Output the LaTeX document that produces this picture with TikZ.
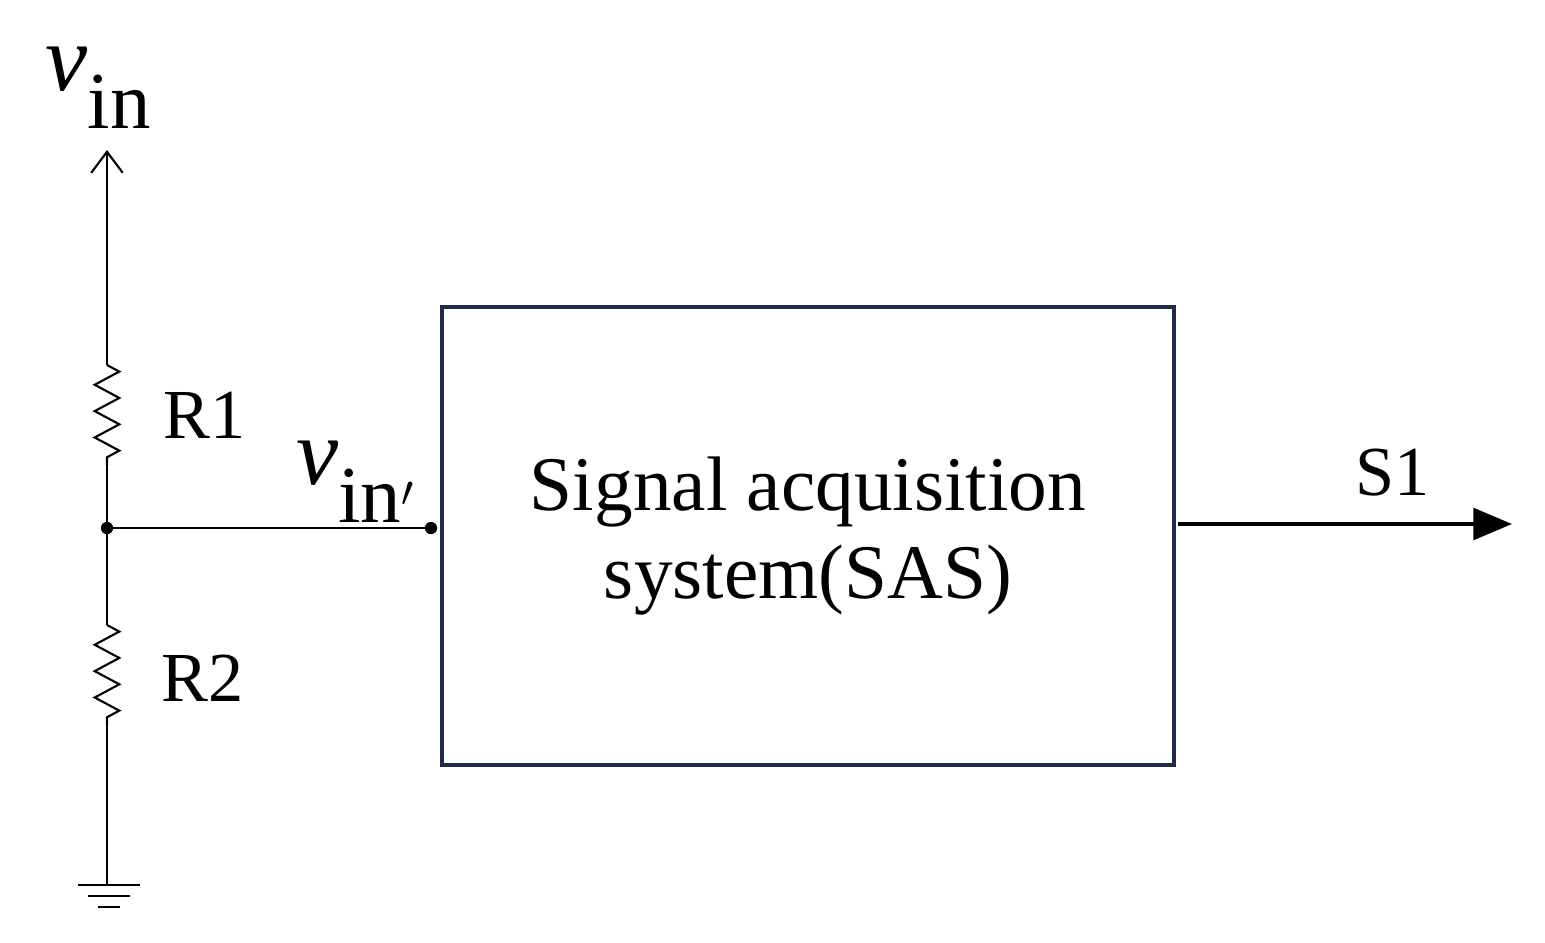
\documentclass[tikz,border=0pt]{standalone}
\usepackage{fontspec}
\setmainfont{Liberation Serif}
\usetikzlibrary{arrows.meta, positioning, decorations.pathmorphing}
\definecolor{boxline}{RGB}{31,45,72}

\tikzset{
    wire/.style={line width=1.2pt},
    res/.style={wire, decorate, decoration={zigzag, amplitude=7pt, segment length=15pt}},
    lbl/.style={font=\fontsize{40}{44}\selectfont},
    dot/.style={circle, fill, inner sep=0pt, minimum size=7pt},
    volt/.style={font=\fontsize{54}{54}\selectfont}
}
\newcommand{\vsig}[1]{{\itshape\char"03BD}\raisebox{-0.4em}{\fontsize{46}{46}\selectfont #1}}

\begin{document}
\begin{tikzpicture}[x=0.02cm, y=-0.02cm]
    \useasboundingbox (0,0) rectangle (1545,943);
    \coordinate (top) at (107,150);
    \coordinate (r1a) at (107,365);
    \coordinate (r1b) at (107,465);
    \node (mid) [dot] at (107,528) {};
    \coordinate (r2a) at (107,625);
    \coordinate (r2b) at (107,725);
    \coordinate (gnd) at (107,885);
    \node (tap) [dot] at (431,528) {};
    \node (sas) [draw=boxline, line width=2pt, minimum width=732*0.02cm, minimum height=458*0.02cm,
        align=center, font=\fontsize{44}{50}\selectfont] at (808,536) {Signal acquisition\\system(SAS)};
    \coordinate (src) at (1178,524);
    \coordinate (out) at (1512,524);

    \node (vin) [volt] at (98,88) {\vsig{in}};
    \node (vinp) [volt] at (355,482) {\vsig{in$'$}};
    \node (lr1) [lbl] at (205,415) {R1};
    \node (lr2) [lbl] at (203,678) {R2};
    \node (ls1) [lbl] at (1393,473) {S1};

    \draw[wire, -{Straight Barb[length=12pt, width=18pt]}] (r1a) -- (top);
    \draw[res] (r1a) -- (r1b);
    \draw[wire] (r1b) -- (mid.center) -- (r2a);
    \draw[res] (r2a) -- (r2b);
    \draw[wire] (r2b) -- (gnd);
    \draw[wire] (mid.center) -- (tap.center);
    \draw[wire] (78,885) -- (140,885) (88,896) -- (130,896) (98,907) -- (120,907);
    \draw[line width=2.2pt, -{Triangle[length=22pt, width=18pt]}] (src) -- (out);
\end{tikzpicture}
\end{document}
